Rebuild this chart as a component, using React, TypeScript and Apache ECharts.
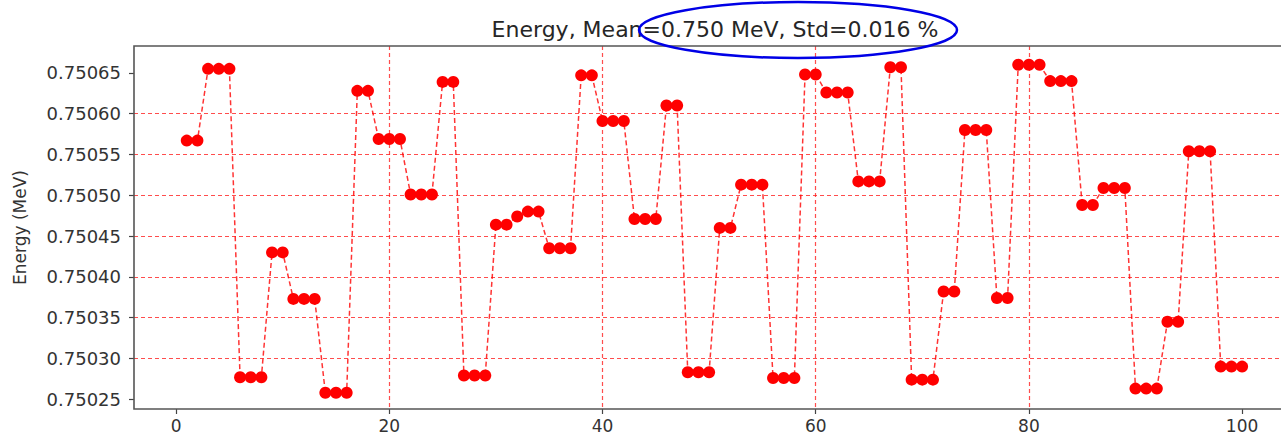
import React, { useEffect, useRef } from "react";
import * as echarts from "echarts";

// Pulse energy readings (MeV) for shots 1..100
const shots: number[] = Array.from({ length: 100 }, (_, i) => i + 1);
const energies: number[] = [
  0.750567, 0.750567, 0.750655, 0.750655, 0.750655, 0.750277, 0.750277, 0.750277, 0.75043, 0.75043,
  0.750373, 0.750373, 0.750373, 0.750258, 0.750258, 0.750258, 0.750628, 0.750628, 0.750569, 0.750569,
  0.750569, 0.750501, 0.750501, 0.750501, 0.750639, 0.750639, 0.750279, 0.750279, 0.750279, 0.750464,
  0.750464, 0.750474, 0.75048, 0.75048, 0.750435, 0.750435, 0.750435, 0.750647, 0.750647, 0.750591,
  0.750591, 0.750591, 0.750471, 0.750471, 0.750471, 0.75061, 0.75061, 0.750283, 0.750283, 0.750283,
  0.75046, 0.75046, 0.750513, 0.750513, 0.750513, 0.750276, 0.750276, 0.750276, 0.750648, 0.750648,
  0.750626, 0.750626, 0.750626, 0.750517, 0.750517, 0.750517, 0.750657, 0.750657, 0.750274, 0.750274,
  0.750274, 0.750382, 0.750382, 0.75058, 0.75058, 0.75058, 0.750374, 0.750374, 0.75066, 0.75066,
  0.75066, 0.75064, 0.75064, 0.75064, 0.750488, 0.750488, 0.750509, 0.750509, 0.750509, 0.750263,
  0.750263, 0.750263, 0.750345, 0.750345, 0.750554, 0.750554, 0.750554, 0.75029, 0.75029, 0.75029,
];
const xTicks: number[] = [0, 20, 40, 60, 80, 100];
const yTicks: number[] = [0.75025, 0.7503, 0.75035, 0.7504, 0.75045, 0.7505, 0.75055, 0.7506, 0.75065];

const titleText = "Energy, Mean=0.750 MeV, Std=0.016 %";
const yName = "Energy (MeV)";

const FONT = "DejaVu Sans";

const makeGridLine = () => ({
  show: true,
  showMinLine: false,
  showMaxLine: false,
  lineStyle: { color: "#ff2020", opacity: 0.8, type: [4, 3] as number[], width: 1.2 },
});

export default function App() {
  const ref = useRef<HTMLDivElement>(null);

  useEffect(() => {
    document.body.style.margin = "0";
    if (!ref.current) return;
    const chart = echarts.init(ref.current, null, { renderer: "svg" });

    chart.setOption({
      animation: false,
      backgroundColor: "#ffffff",
      textStyle: { fontFamily: FONT },
      title: {
        text: titleText,
        left: 710,
        textAlign: "center",
        top: 13,
        textStyle: { fontFamily: FONT, fontSize: 22, fontWeight: "normal", color: "#262626" },
      },
      grid: { left: 134, right: 0, top: 46, bottom: 28, show: false },
      xAxis: {
        type: "value",
        min: -3.95,
        max: 103.65,
        interval: 20,
        axisLine: { show: false },
        axisTick: { show: true, customValues: xTicks, length: 5, lineStyle: { color: "#444", width: 1.2 } },
        axisLabel: {
          customValues: xTicks,
          fontFamily: FONT,
          fontSize: 17,
          color: "#333",
          margin: 8,
        },
        splitLine: makeGridLine(),
      },
      yAxis: {
        type: "value",
        min: 0.750238,
        max: 0.750683,
        interval: 0.00005,
        name: yName,
        nameLocation: "middle",
        nameGap: 106,
        nameTextStyle: { fontFamily: FONT, fontSize: 17, color: "#333" },
        axisLine: { show: false, onZero: false },
        axisTick: { show: true, customValues: yTicks, length: 5, lineStyle: { color: "#444", width: 1.2 } },
        axisLabel: {
          customValues: yTicks,
          fontFamily: FONT,
          fontSize: 18,
          color: "#333",
          margin: 13,
          formatter: (v: number) => v.toFixed(5),
        },
        splitLine: makeGridLine(),
      },
      graphic: [
        {
          // axes frame; its right side lies past the page edge
          type: "rect",
          shape: { x: 134, y: 46, width: 1162, height: 437 - 46 - 28 },
          style: { fill: "none", stroke: "#555", lineWidth: 1.6 },
          z: 10,
          silent: true,
        },
        {
          type: "ellipse",
          shape: { cx: 798, cy: 30, rx: 159, ry: 28 },
          style: { fill: "none", stroke: "#0000e6", lineWidth: 2.5 },
          z: 20,
          silent: true,
        },
      ],
      series: [
        {
          type: "line",
          data: shots.map((s, i) => [s, energies[i]]),
          symbol: "circle",
          symbolSize: 12,
          showSymbol: true,
          itemStyle: { color: "#ff0000" },
          lineStyle: { color: "rgba(255,0,0,0.8)", type: [5, 3], width: 1.5 },
          z: 5,
        },
      ],
    });

    return () => chart.dispose();
  }, []);

  return <div ref={ref} style={{ width: 1281, height: 437 }} />;
}
